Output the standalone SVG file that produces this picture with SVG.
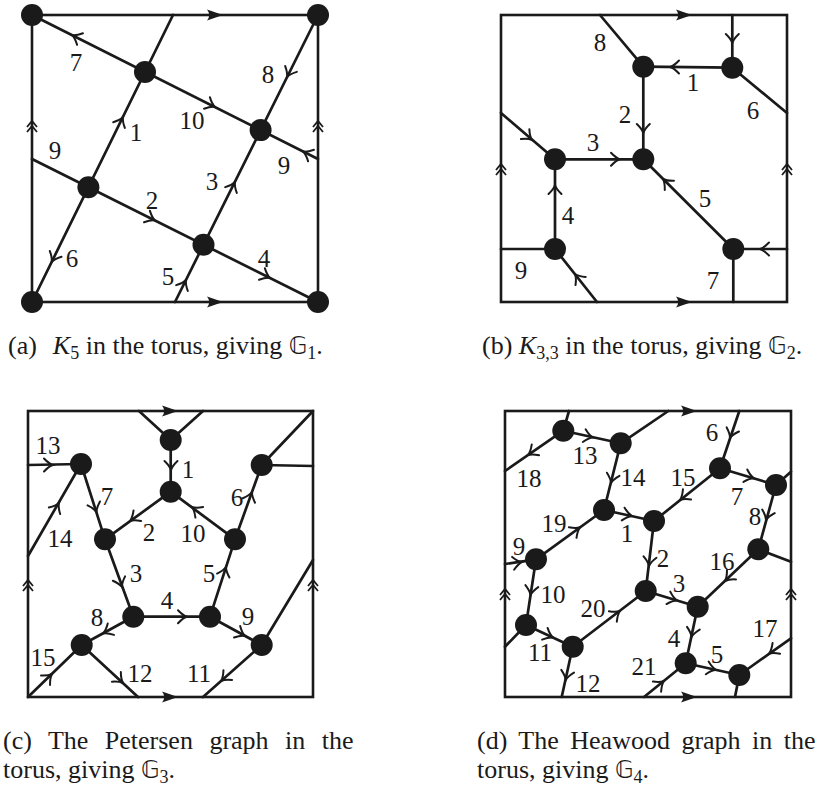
<svg xmlns="http://www.w3.org/2000/svg" xmlns:xlink="http://www.w3.org/1999/xlink" width="822" height="792" viewBox="0 0 822 792">
<style>
.frame{fill:none;stroke:#1a1a1a;stroke-width:2.6}
.e{fill:none;stroke:#1a1a1a;stroke-width:2.7;stroke-linecap:round}
.n{fill:#1a1a1a}
.lb{font-family:"Liberation Serif","DejaVu Serif",serif;font-size:25px;fill:#1a1a1a;text-anchor:middle}
.cap{font-family:"Liberation Serif","DejaVu Serif",serif;font-size:26px;fill:#1a1a1a}
.bb{font-family:"DejaVu Sans","DejaVu Serif",sans-serif;font-size:24px}
.sub{font-size:18px}
</style>
<defs>
<path id="oa" d="M -9,-6.5 Q -4,-1.2 0,0 Q -4,1.2 -9,6.5" fill="none" stroke="#1a1a1a" stroke-width="2" stroke-linecap="round"/>
<path id="fa" d="M 0,0 L -16,-5.5 Q -11.5,0 -16,5.5 Z" fill="#1a1a1a"/>
<path id="dc" d="M -5,6 L 0,0 L 5,6 M -5,11 L 0,5 L 5,11" fill="none" stroke="#1a1a1a" stroke-width="1.8"/>
</defs>

<!-- Panel (a) -->
<g id="panel-a">
<g id="a-frame">
<rect class="frame" x="32" y="15" width="286" height="287"/>
<use href="#fa" transform="translate(223,15)"/>
<use href="#fa" transform="translate(223,302)"/>
<use href="#dc" transform="translate(32,121)"/>
<use href="#dc" transform="translate(318,121)"/>
</g>
<g id="a-connectors">
<path class="e" d="M32,15 L318,159"/>
<path class="e" d="M32,159 L318,302"/>
<path class="e" d="M32,302 L173,15"/>
<path class="e" d="M175,302 L318,15"/>
<use href="#oa" transform="translate(72,35) rotate(206.7)"/>
<use href="#oa" transform="translate(215,107) rotate(26.7)"/>
<use href="#oa" transform="translate(303,151.5) rotate(206.7)"/>
<use href="#oa" transform="translate(155,220.5) rotate(26.6)"/>
<use href="#oa" transform="translate(270,278) rotate(26.6)"/>
<use href="#oa" transform="translate(123,117) rotate(-63.8)"/>
<use href="#oa" transform="translate(51.7,262) rotate(116.2)"/>
<use href="#oa" transform="translate(186,280) rotate(-63.5)"/>
<use href="#oa" transform="translate(235,182) rotate(-63.5)"/>
<use href="#oa" transform="translate(287,77) rotate(116.5)"/>
</g>
<g id="a-labels">
<text class="lb" x="76" y="70.5">7</text>
<text class="lb" x="192" y="129">10</text>
<text class="lb" x="284" y="173.5">9</text>
<text class="lb" x="55" y="158.5">9</text>
<text class="lb" x="152" y="208.5">2</text>
<text class="lb" x="264" y="266.5">4</text>
<text class="lb" x="136" y="140.5">1</text>
<text class="lb" x="72" y="266.5">6</text>
<text class="lb" x="168" y="284.5">5</text>
<text class="lb" x="212" y="189.5">3</text>
<text class="lb" x="268" y="82.5">8</text>
</g>
<g id="a-v0"><circle class="n" cx="32" cy="15" r="11"/></g>
<g id="a-v0b"><circle class="n" cx="318" cy="15" r="11"/></g>
<g id="a-v0c"><circle class="n" cx="32" cy="302" r="11"/></g>
<g id="a-v0d"><circle class="n" cx="318" cy="302" r="11"/></g>
<g id="a-vA"><circle class="n" cx="145" cy="72" r="11"/></g>
<g id="a-vB"><circle class="n" cx="260.6" cy="130.1" r="11"/></g>
<g id="a-vC"><circle class="n" cx="88.4" cy="187.2" r="11"/></g>
<g id="a-vD"><circle class="n" cx="203.5" cy="244.8" r="11"/></g>
<text class="cap" x="8" y="354">(a)<tspan dx="16" font-style="italic">K</tspan><tspan class="sub" dy="5">5</tspan><tspan dy="-5"> in the torus, giving </tspan><tspan class="bb">𝔾</tspan><tspan class="sub" dy="5">1</tspan><tspan dy="-5">.</tspan></text>
</g>

<!-- Panel (b) -->
<g id="panel-b">
<g id="b-frame">
<rect class="frame" x="501" y="15" width="286" height="287"/>
<use href="#fa" transform="translate(692,15)"/>
<use href="#fa" transform="translate(692,302)"/>
<use href="#dc" transform="translate(501,164)"/>
<use href="#dc" transform="translate(787,164)"/>
</g>
<g id="b-connectors">
<path class="e" d="M600,15 L643.3,66.7"/>
<path class="e" d="M643.3,66.7 L732.3,67.7"/>
<path class="e" d="M732.3,67.7 L732.3,15"/>
<path class="e" d="M732.3,67.7 L787,113"/>
<path class="e" d="M643.3,66.7 L643.3,159.3"/>
<path class="e" d="M555,159.3 L643.3,159.3"/>
<path class="e" d="M501,113 L555,159.3"/>
<path class="e" d="M555,249 L555,159.3"/>
<path class="e" d="M733.3,249 L643.3,159.3"/>
<path class="e" d="M733.3,249 L787,249"/>
<path class="e" d="M733.3,249 L733.3,302"/>
<path class="e" d="M555,249 L501,249"/>
<path class="e" d="M555,249 L597,302"/>
<use href="#oa" transform="translate(732.3,43) rotate(90)"/>
<use href="#oa" transform="translate(670,67) rotate(180)"/>
<use href="#oa" transform="translate(643.3,133) rotate(90)"/>
<use href="#oa" transform="translate(620,159.3) rotate(0)"/>
<use href="#oa" transform="translate(532,140) rotate(40.4)"/>
<use href="#oa" transform="translate(555,185) rotate(-90)"/>
<use href="#oa" transform="translate(663,179) rotate(225)"/>
<use href="#oa" transform="translate(760,249) rotate(180)"/>
<use href="#oa" transform="translate(575,274) rotate(231.6)"/>
</g>
<g id="b-labels">
<text class="lb" x="600" y="50.5">8</text>
<text class="lb" x="693" y="90.5">1</text>
<text class="lb" x="753" y="118.5">6</text>
<text class="lb" x="625" y="122.5">2</text>
<text class="lb" x="593" y="150.5">3</text>
<text class="lb" x="568" y="223.5">4</text>
<text class="lb" x="705" y="206.5">5</text>
<text class="lb" x="713" y="288.5">7</text>
<text class="lb" x="521" y="278.5">9</text>
</g>
<g id="b-v1"><circle class="n" cx="643.3" cy="66.7" r="11"/></g>
<g id="b-v2"><circle class="n" cx="732.3" cy="67.7" r="11"/></g>
<g id="b-v3"><circle class="n" cx="555" cy="159.3" r="11"/></g>
<g id="b-v4"><circle class="n" cx="643.3" cy="159.3" r="11"/></g>
<g id="b-v5"><circle class="n" cx="555" cy="249" r="11"/></g>
<g id="b-v6"><circle class="n" cx="733.3" cy="249" r="11"/></g>
<text class="cap" x="482" y="354">(b) <tspan font-style="italic">K</tspan><tspan class="sub" dy="5">3,3</tspan><tspan dy="-5"> in the torus, giving </tspan><tspan class="bb">𝔾</tspan><tspan class="sub" dy="5">2</tspan><tspan dy="-5">.</tspan></text>
</g>

<!-- Panel (c) -->
<g id="panel-c">
<g id="c-frame">
<rect class="frame" x="28" y="411" width="285" height="286"/>
<use href="#fa" transform="translate(178,411)"/>
<use href="#fa" transform="translate(178,697)"/>
<use href="#dc" transform="translate(28,580)"/>
<use href="#dc" transform="translate(313,580)"/>
</g>
<g id="c-connectors">
<path class="e" d="M139,411 L170.7,440"/>
<path class="e" d="M203,411 L170.7,440"/>
<path class="e" d="M170.7,440 L170.7,491.7"/>
<path class="e" d="M28,465 L81,464"/>
<path class="e" d="M28,556 L81,464"/>
<path class="e" d="M81,464 L105,539.3"/>
<path class="e" d="M170.7,491.7 L105,539.3"/>
<path class="e" d="M235,539.3 L170.7,491.7"/>
<path class="e" d="M235,539.3 L261.7,465"/>
<path class="e" d="M261.7,465 L313,411"/>
<path class="e" d="M261.7,465 L313,466"/>
<path class="e" d="M105,539.3 L133.3,616.7"/>
<path class="e" d="M210,616.7 L235,539.3"/>
<path class="e" d="M133.3,616.7 L210,616.7"/>
<path class="e" d="M133.3,616.7 L81.7,645"/>
<path class="e" d="M210,616.7 L261.7,645"/>
<path class="e" d="M261.7,645 L313,560"/>
<path class="e" d="M261.7,645 L203,697"/>
<path class="e" d="M81.7,645 L138,697"/>
<path class="e" d="M28,697 L81.7,645"/>
<use href="#oa" transform="translate(171,470) rotate(90)"/>
<use href="#oa" transform="translate(53,465) rotate(0)"/>
<use href="#oa" transform="translate(59,503) rotate(-60)"/>
<use href="#oa" transform="translate(96.5,512) rotate(72.3)"/>
<use href="#oa" transform="translate(130,521) rotate(144.5)"/>
<use href="#oa" transform="translate(192,507) rotate(216.3)"/>
<use href="#oa" transform="translate(252,492) rotate(-70)"/>
<use href="#oa" transform="translate(122,587) rotate(70.3)"/>
<use href="#oa" transform="translate(226,567) rotate(-72.2)"/>
<use href="#oa" transform="translate(187,616.7) rotate(0)"/>
<use href="#oa" transform="translate(103,633.5) rotate(151.2)"/>
<use href="#oa" transform="translate(245,636) rotate(28.3)"/>
<use href="#oa" transform="translate(221,681) rotate(138.6)"/>
<use href="#oa" transform="translate(123,683) rotate(42.9)"/>
<use href="#oa" transform="translate(52,674) rotate(-43.9)"/>
</g>
<g id="c-labels">
<text class="lb" x="188" y="477.5">1</text>
<text class="lb" x="48" y="453.5">13</text>
<text class="lb" x="60" y="546.5">14</text>
<text class="lb" x="107" y="504.5">7</text>
<text class="lb" x="149" y="540.5">2</text>
<text class="lb" x="193" y="541.5">10</text>
<text class="lb" x="237" y="505.5">6</text>
<text class="lb" x="136" y="581.5">3</text>
<text class="lb" x="209" y="581.5">5</text>
<text class="lb" x="167" y="608.5">4</text>
<text class="lb" x="97" y="625.5">8</text>
<text class="lb" x="248" y="624.5">9</text>
<text class="lb" x="199" y="681.5">11</text>
<text class="lb" x="140" y="681.5">12</text>
<text class="lb" x="43" y="665.5">15</text>
</g>
<g id="c-v1"><circle class="n" cx="170.7" cy="440" r="11"/></g>
<g id="c-v2"><circle class="n" cx="170.7" cy="491.7" r="11"/></g>
<g id="c-v3"><circle class="n" cx="81" cy="464" r="11"/></g>
<g id="c-v4"><circle class="n" cx="261.7" cy="465" r="11"/></g>
<g id="c-v5"><circle class="n" cx="105" cy="539.3" r="11"/></g>
<g id="c-v6"><circle class="n" cx="235" cy="539.3" r="11"/></g>
<g id="c-v7"><circle class="n" cx="133.3" cy="616.7" r="11"/></g>
<g id="c-v8"><circle class="n" cx="210" cy="616.7" r="11"/></g>
<g id="c-v9"><circle class="n" cx="81.7" cy="645" r="11"/></g>
<g id="c-v10"><circle class="n" cx="261.7" cy="645" r="11"/></g>
<text class="cap" x="3" y="749" word-spacing="10">(c) The Petersen graph in the</text>
<text class="cap" x="3" y="778">torus, giving <tspan class="bb">𝔾</tspan><tspan class="sub" dy="5">3</tspan><tspan dy="-5">.</tspan></text>
</g>

<!-- Panel (d) -->
<g id="panel-d">
<g id="d-frame">
<rect class="frame" x="505" y="411" width="286" height="286"/>
<use href="#fa" transform="translate(697,411)"/>
<use href="#fa" transform="translate(697,697)"/>
<use href="#dc" transform="translate(505,589)"/>
<use href="#dc" transform="translate(791,589)"/>
</g>
<g id="d-connectors">
<path class="e" d="M563.3,430.7 L569,411"/>
<path class="e" d="M563.3,430.7 L505,471"/>
<path class="e" d="M563.3,430.7 L620.7,443.3"/>
<path class="e" d="M620.7,443.3 L668.3,411"/>
<path class="e" d="M620.7,443.3 L604,510"/>
<path class="e" d="M739.3,411 L720,468.3"/>
<path class="e" d="M720,468.3 L654,521"/>
<path class="e" d="M720,468.3 L776,485"/>
<path class="e" d="M776,485 L791,471.7"/>
<path class="e" d="M776,485 L758.3,549.3"/>
<path class="e" d="M604,510 L654,521"/>
<path class="e" d="M536,559.3 L604,510"/>
<path class="e" d="M654,521 L645.7,591"/>
<path class="e" d="M758.3,549.3 L791,561.7"/>
<path class="e" d="M758.3,549.3 L697.7,606.7"/>
<path class="e" d="M505,564 L536,559.3"/>
<path class="e" d="M536,559.3 L526,625"/>
<path class="e" d="M572.7,646.7 L645.7,591"/>
<path class="e" d="M645.7,591 L697.7,606.7"/>
<path class="e" d="M526,625 L505,646.7"/>
<path class="e" d="M526,625 L572.7,646.7"/>
<path class="e" d="M697.7,606.7 L685.7,663.3"/>
<path class="e" d="M572.7,646.7 L561.7,697"/>
<path class="e" d="M644,697 L685.7,663.3"/>
<path class="e" d="M685.7,663.3 L739.3,675"/>
<path class="e" d="M739.3,675 L735,697"/>
<path class="e" d="M791,638.3 L739.3,675"/>
<use href="#oa" transform="translate(528,455) rotate(145.4)"/>
<use href="#oa" transform="translate(593,437.6) rotate(12.5)"/>
<use href="#oa" transform="translate(611,483) rotate(104.2)"/>
<use href="#oa" transform="translate(730,438) rotate(108.4)"/>
<use href="#oa" transform="translate(680,500) rotate(141.2)"/>
<use href="#oa" transform="translate(754,478.3) rotate(16.9)"/>
<use href="#oa" transform="translate(766,520) rotate(105.7)"/>
<use href="#oa" transform="translate(632,516) rotate(12.4)"/>
<use href="#oa" transform="translate(580,527.3) rotate(-35.8)"/>
<use href="#oa" transform="translate(649,566) rotate(96.5)"/>
<use href="#oa" transform="translate(725,581) rotate(136)"/>
<use href="#oa" transform="translate(522,562) rotate(-8.6)"/>
<use href="#oa" transform="translate(530.5,595) rotate(98.6)"/>
<use href="#oa" transform="translate(620,611) rotate(-37.5)"/>
<use href="#oa" transform="translate(677,600.4) rotate(16.8)"/>
<use href="#oa" transform="translate(553,637.6) rotate(25)"/>
<use href="#oa" transform="translate(691.5,637) rotate(102.1)"/>
<use href="#oa" transform="translate(565.7,680) rotate(102.4)"/>
<use href="#oa" transform="translate(664,681) rotate(-39)"/>
<use href="#oa" transform="translate(716,669.8) rotate(12.3)"/>
<use href="#oa" transform="translate(769,653.6) rotate(144.6)"/>
</g>
<g id="d-labels">
<text class="lb" x="529" y="486.5">18</text>
<text class="lb" x="585" y="463.5">13</text>
<text class="lb" x="633" y="485.5">14</text>
<text class="lb" x="712" y="440.5">6</text>
<text class="lb" x="683" y="485.5">15</text>
<text class="lb" x="737" y="504.5">7</text>
<text class="lb" x="755" y="524.5">8</text>
<text class="lb" x="627" y="541.5">1</text>
<text class="lb" x="554" y="531.5">19</text>
<text class="lb" x="663" y="566.5">2</text>
<text class="lb" x="722" y="569.5">16</text>
<text class="lb" x="519" y="554.5">9</text>
<text class="lb" x="553" y="602.5">10</text>
<text class="lb" x="593" y="616.5">20</text>
<text class="lb" x="679" y="591.5">3</text>
<text class="lb" x="540" y="660.5">11</text>
<text class="lb" x="674" y="646.5">4</text>
<text class="lb" x="588" y="691.5">12</text>
<text class="lb" x="644" y="674.5">21</text>
<text class="lb" x="717" y="662.5">5</text>
<text class="lb" x="765" y="636.5">17</text>
</g>
<g id="d-v13a"><circle class="n" cx="563.3" cy="430.7" r="11"/></g>
<g id="d-v13b"><circle class="n" cx="620.7" cy="443.3" r="11"/></g>
<g id="d-v6"><circle class="n" cx="720" cy="468.3" r="11"/></g>
<g id="d-v7"><circle class="n" cx="776" cy="485" r="11"/></g>
<g id="d-v19"><circle class="n" cx="604" cy="510" r="11"/></g>
<g id="d-v1"><circle class="n" cx="654" cy="521" r="11"/></g>
<g id="d-v8"><circle class="n" cx="758.3" cy="549.3" r="11"/></g>
<g id="d-v9"><circle class="n" cx="536" cy="559.3" r="11"/></g>
<g id="d-v20"><circle class="n" cx="645.7" cy="591" r="11"/></g>
<g id="d-v3"><circle class="n" cx="697.7" cy="606.7" r="11"/></g>
<g id="d-v10"><circle class="n" cx="526" cy="625" r="11"/></g>
<g id="d-v11"><circle class="n" cx="572.7" cy="646.7" r="11"/></g>
<g id="d-v4"><circle class="n" cx="685.7" cy="663.3" r="11"/></g>
<g id="d-v5"><circle class="n" cx="739.3" cy="675" r="11"/></g>
<text class="cap" x="477" y="749" word-spacing="5">(d) The Heawood graph in the</text>
<text class="cap" x="477" y="778">torus, giving <tspan class="bb">𝔾</tspan><tspan class="sub" dy="5">4</tspan><tspan dy="-5">.</tspan></text>
</g>
</svg>
